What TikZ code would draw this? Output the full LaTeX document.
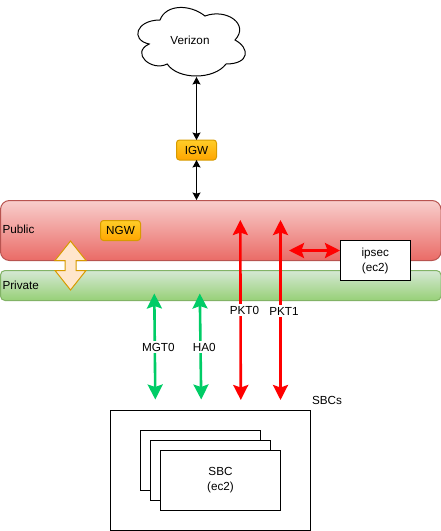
\documentclass[tikz,border=0pt]{standalone}
\usepackage{fontspec}
\setmainfont{Liberation Sans}
\usetikzlibrary{arrows.meta}
\definecolor{goldline}{HTML}{D79B00}
\definecolor{greenarrow}{HTML}{00CC66}
\definecolor{gwtop}{HTML}{FFCD28}
\definecolor{gwbot}{HTML}{FFA500}
\tikzset{
  lbl/.style={inner sep=0pt,outer sep=0pt,align=center,text=black,font=\fontsize{11.7}{15}\selectfont},
  plainbox/.style={draw=black,fill=white,line width=1pt,inner sep=0pt,outer sep=0pt,align=center,font=\fontsize{11.7}{15}\selectfont},
  gwbox/.style={draw=goldline,top color=gwtop,bottom color=gwbot,rounded corners=3pt,line width=1pt,inner sep=0pt,outer sep=0pt,minimum width=40pt,minimum height=20pt,font=\fontsize{11.7}{15}\selectfont},
  blackarrow/.style={line width=1pt,draw=black,{Stealth[length=7.5pt,width=8pt,inset=1.2pt]}-{Stealth[length=7.5pt,width=8pt,inset=1.2pt]}},
  thickarrow/.style={line width=2.6pt,{Stealth[length=15pt,width=15pt,inset=2.5pt]}-{Stealth[length=15pt,width=15pt,inset=2.5pt]}},
  wirelbl/.style={lbl,fill=white,inner xsep=0.5pt,inner ysep=1.5pt},
}
\begin{document}
\begin{tikzpicture}[x=1pt,y=-1pt]
\useasboundingbox (0,0) rectangle (441,531);
% cloud
\draw[line width=1pt,fill=white] (160,20)
  .. controls (136,20) and (130,40) .. (149.2,44)
  .. controls (130,52.8) and (151.6,72) .. (167.2,64)
  .. controls (178,80) and (214,80) .. (226,64)
  .. controls (250,64) and (250,48) .. (235,40)
  .. controls (250,24) and (226,8) .. (205,16)
  .. controls (190,4) and (166,4) .. (160,20) -- cycle;
\node[lbl] (verizon) at (190,40) {Verizon};
\coordinate (cloudbottom) at (196.5,77);
% zones
\node[draw={rgb,255:red,184;green,84;blue,80},top color={rgb,255:red,248;green,206;blue,204},bottom color={rgb,255:red,234;green,107;blue,102},rounded corners=9pt,line width=1pt,inner sep=0pt,outer sep=0pt,minimum width=440.5pt,minimum height=60pt] (public) at (220.75,230.5) {};
\node[draw={rgb,255:red,130;green,179;blue,102},top color={rgb,255:red,213;green,232;blue,212},bottom color={rgb,255:red,151;green,208;blue,119},rounded corners=4.5pt,line width=1pt,inner sep=0pt,outer sep=0pt,minimum width=440.5pt,minimum height=30pt] (private) at (220.75,285.5) {};
\node[lbl,anchor=west] (publiclbl) at (2.5,229.7) {Public};
\node[lbl,anchor=west] (privatelbl) at (2.5,285) {Private};
\node[gwbox] (igw) at (196.5,150) {IGW};
\node[gwbox] (ngw) at (120.5,230.5) {NGW};
\coordinate (publictop) at (196.5,200);
\draw[blackarrow] (cloudbottom) -- (igw.north);
\draw[blackarrow] (igw.south) -- (publictop);
% big double arrow
\draw[draw=goldline,fill={rgb,255:red,255;green,230;blue,204},line width=1pt,line join=miter]
  (70.5,241) -- (86,260.5) -- (76,260.5) -- (76,270.5) -- (86,270.5) -- (70.5,290)
  -- (55,270.5) -- (65,270.5) -- (65,260.5) -- (55,260.5) -- cycle;
% ipsec
\node[plainbox,minimum width=70.5pt,minimum height=40pt] (ipsec) at (375.25,260.5) {ipsec\\(ec2)};
% SBCs
\node[plainbox,minimum width=200.5pt,minimum height=120pt] (sbcs) at (210.25,470) {};
\node[plainbox,minimum width=120pt,minimum height=60pt] (sbc3) at (200.5,460) {};
\node[plainbox,minimum width=120pt,minimum height=60pt] (sbc2) at (210.5,470) {};
\node[plainbox,minimum width=120pt,minimum height=60pt] (sbc1) at (220.5,480) {SBC\\(ec2)};
\node[lbl] (sbcslbl) at (327,400.5) {SBCs};
% thick arrows
\coordinate (mgttop) at (154.3,293.5);
\coordinate (mgtbot) at (155.3,399.5);
\coordinate (hatop) at (199.8,293.5);
\coordinate (habot) at (201.2,399.5);
\coordinate (p0top) at (240.3,220);
\coordinate (p0bot) at (240.8,400);
\coordinate (p1top) at (280.5,220);
\coordinate (p1bot) at (280.5,400);
\coordinate (ipsecleft) at (289,250.5);
\draw[thickarrow,draw=greenarrow,color=greenarrow] (mgttop) -- (mgtbot);
\draw[thickarrow,draw=greenarrow,color=greenarrow] (hatop) -- (habot);
\draw[thickarrow,draw=red,color=red] (p0top) -- (p0bot);
\draw[thickarrow,draw=red,color=red] (p1top) -- (p1bot);
\draw[thickarrow,draw=red,color=red] (ipsecleft) -- (ipsecleft -| ipsec.west);
\node[wirelbl] (mgt) at (158.3,347) {MGT0};
\node[wirelbl] (ha) at (204.3,347) {HA0};
\node[wirelbl] (pkt0) at (244.5,310) {PKT0};
\node[wirelbl] (pkt1) at (284,311) {PKT1};
\end{tikzpicture}
\end{document}
